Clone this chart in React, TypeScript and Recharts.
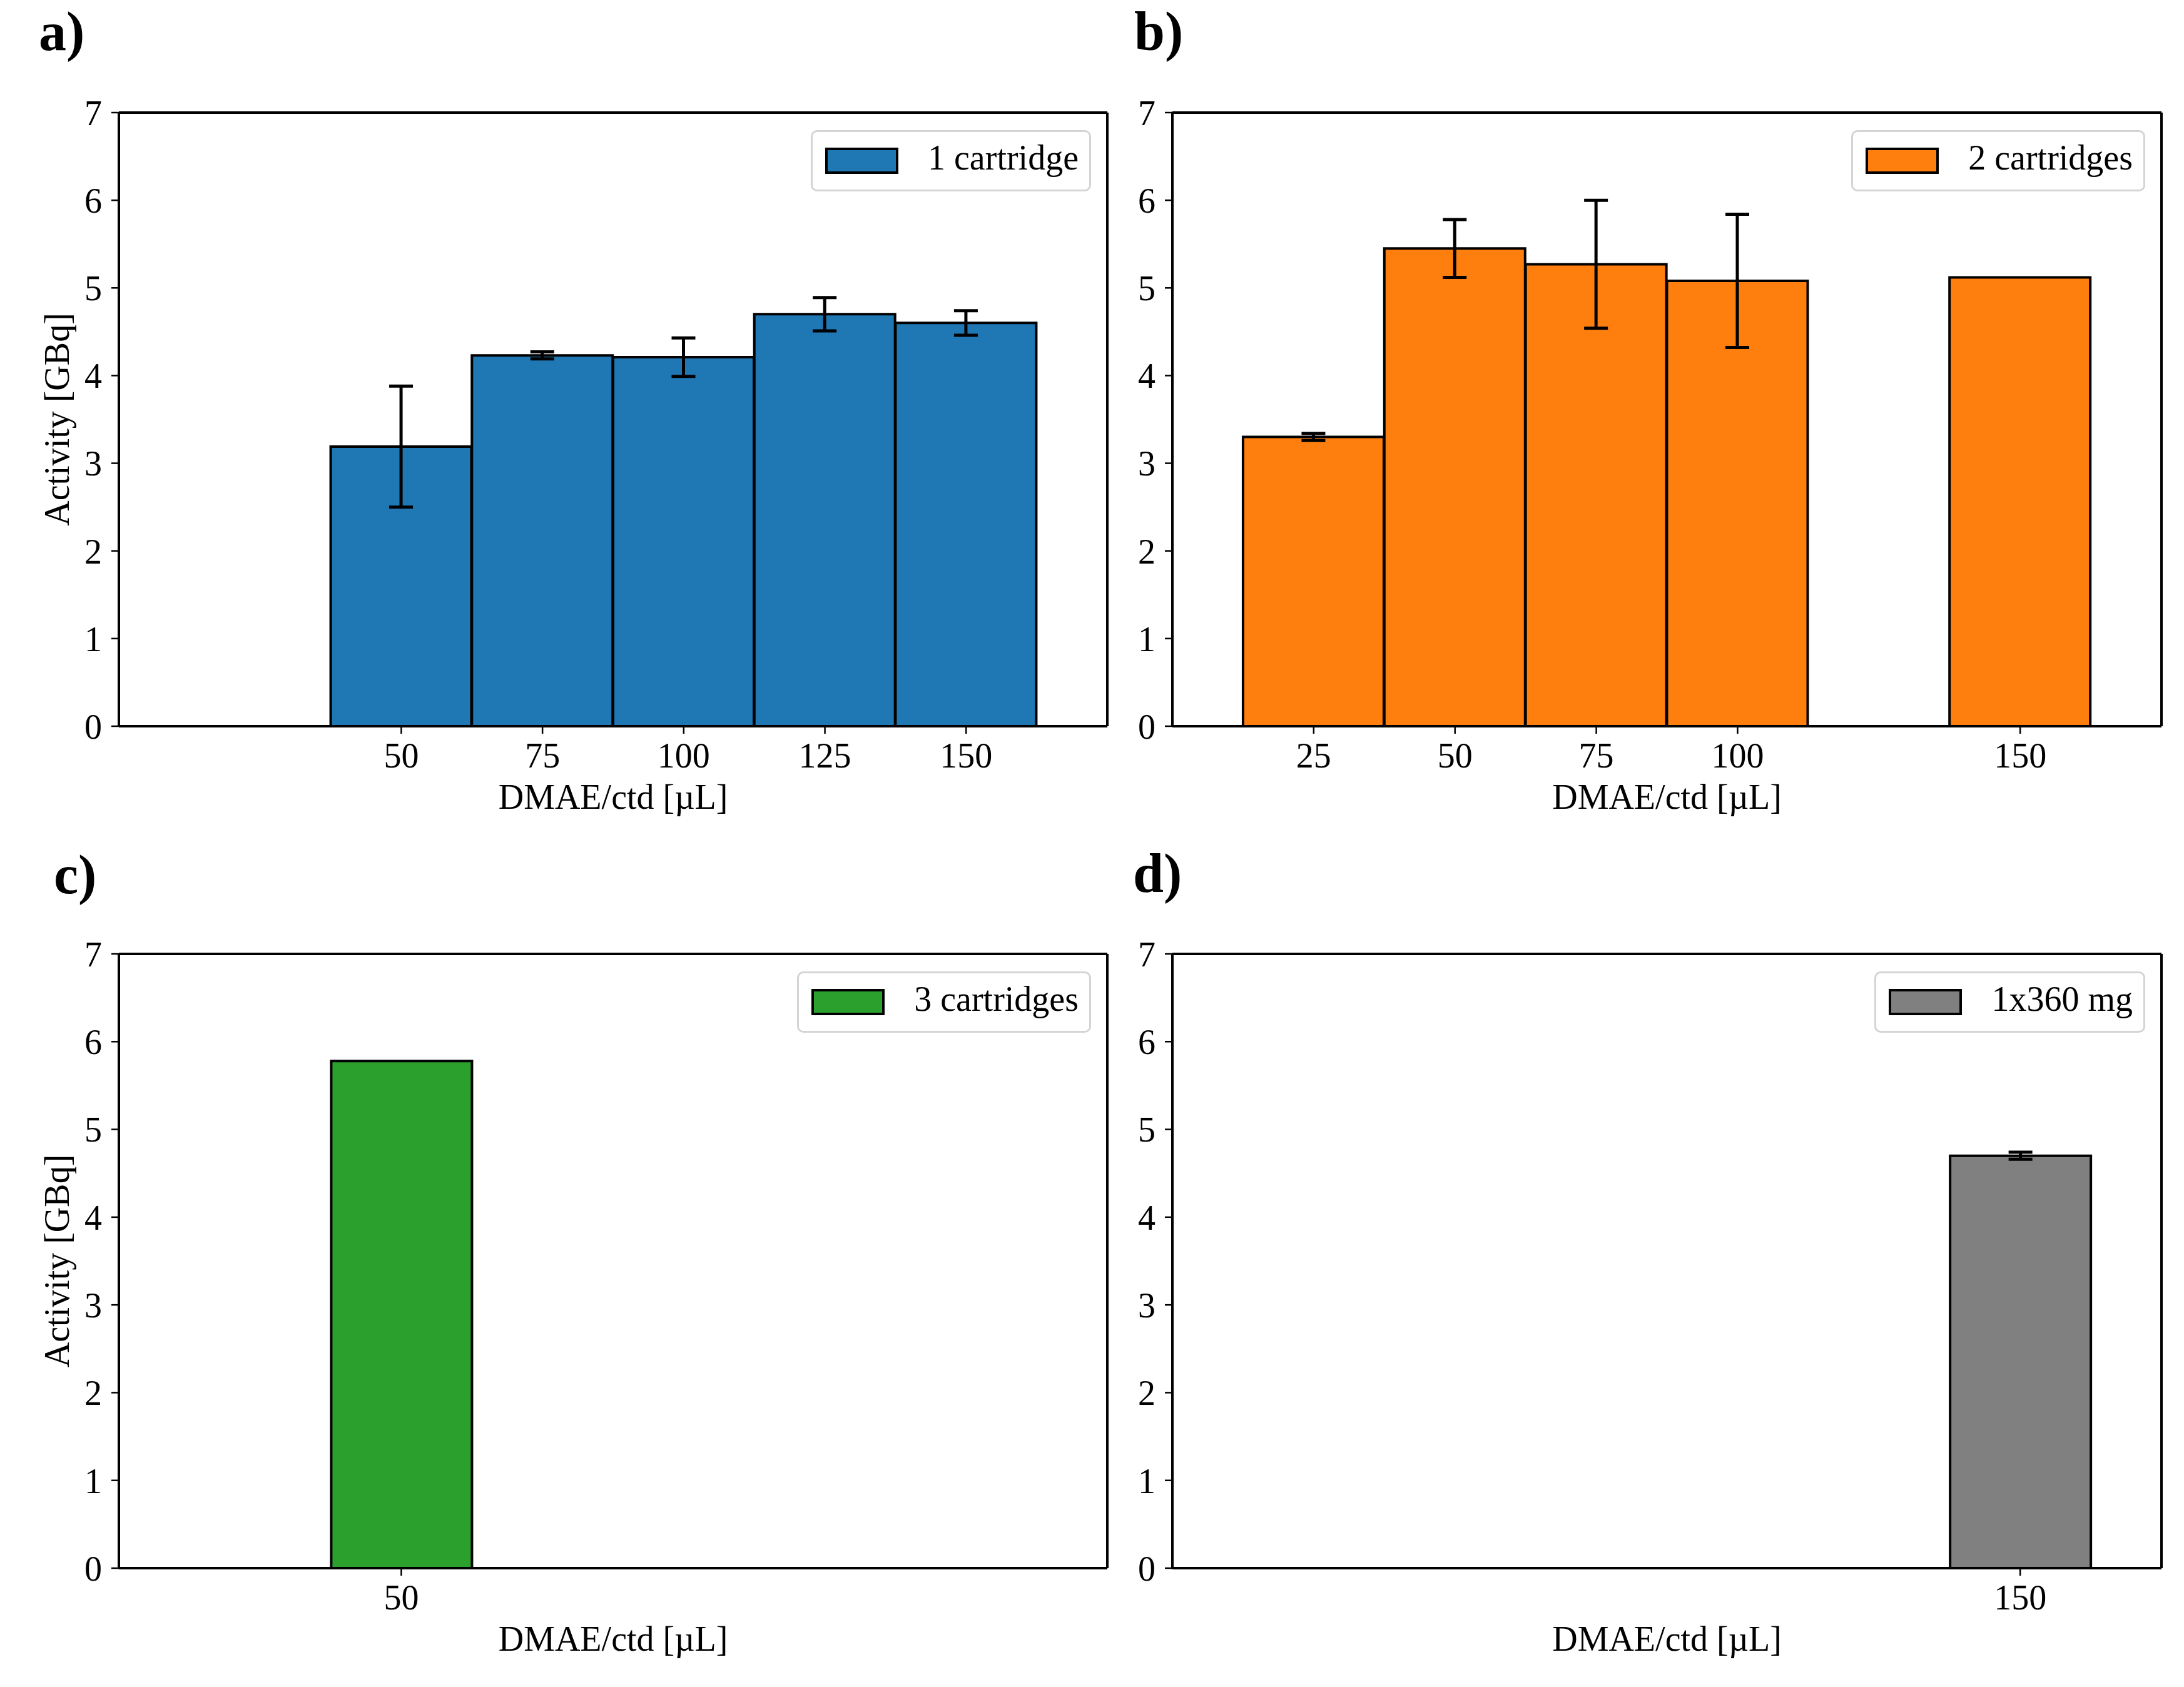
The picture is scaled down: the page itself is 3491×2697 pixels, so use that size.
import React from 'react';
import { BarChart, Bar, XAxis, YAxis, ErrorBar, ReferenceLine, Legend } from 'recharts';

const FONT = '"Liberation Serif", "Times New Roman", Times, serif';

// ---- data ----
const dosesA = [50, 75, 100, 125, 150];
const activityA = [3.19, 4.23, 4.21, 4.7, 4.6];
const errorA = [0.69, 0.04, 0.22, 0.19, 0.14];
const ticksA = [50, 75, 100, 125, 150];

const dosesB = [25, 50, 75, 100, 150];
const activityB = [3.3, 5.45, 5.27, 5.08, 5.12];
const errorB = [0.04, 0.33, 0.73, 0.76, 0];
const ticksB = [25, 50, 75, 100, 150];

const dosesC = [50];
const activityC = [5.78];
const errorC = [0];
const ticksC = [50];

const dosesD = [150];
const activityD = [4.7];
const errorD = [0.04];
const ticksD = [150];

const yTicks = [0, 1, 2, 3, 4, 5, 6, 7];
const xDomain: [number, number] = [0, 175];
const yDomain: [number, number] = [0, 7];
const binWidth = 25;

const xLabel = 'DMAE/ctd [\u00b5L]';
const yLabel = 'Activity [GBq]';

type Row = { dose: number; activity: number; err: number };
const toRows = (d: number[], a: number[], e: number[]): Row[] =>
  d.map((dose, i) => ({ dose, activity: a[i], err: e[i] }));

type Box = { left: number; top: number; width: number; height: number };
type Plot = { x0: number; y0: number; x1: number; y1: number };

const LegendBox = ({ label, color }: { label: string; color: string }) => (
  <div
    style={{
      boxSizing: 'border-box',
      height: 98,
      display: 'flex',
      alignItems: 'center',
      paddingLeft: 20,
      paddingRight: 17,
      border: '3px solid #d4d4d4',
      borderRadius: 10,
      background: 'rgba(255,255,255,0.8)',
      fontFamily: FONT,
      fontSize: 56,
      color: '#000',
      whiteSpace: 'nowrap',
      lineHeight: 1,
    }}
  >
    <span
      style={{
        display: 'inline-block',
        width: 117,
        height: 42,
        boxSizing: 'border-box',
        background: color,
        border: '4px solid #000',
        marginRight: 47,
        flex: 'none',
      }}
    />
    <span style={{ position: 'relative', top: -5 }}>{label}</span>
  </div>
);

type PanelProps = {
  box: Box;
  plot: Plot;
  rows: Row[];
  ticks: number[];
  color: string;
  legend: string;
  showYLabel: boolean;
  hasErr: boolean;
};

const Panel = ({ box, plot, rows, ticks, color, legend, showYLabel, hasErr }: PanelProps) => {
  const W = 60;
  const H = 150;
  const margin = {
    top: plot.y0 - box.top,
    left: plot.x0 - box.left - W,
    right: box.left + box.width - plot.x1,
    bottom: box.top + box.height - plot.y1 - H,
  };
  const plotW = plot.x1 - plot.x0;
  const barSize = Math.floor((plotW * binWidth) / (xDomain[1] - xDomain[0]));
  const tickStyle = { fill: '#000', fontSize: 56, fontFamily: FONT };
  const lineStyle = { stroke: '#000', strokeWidth: 4 };
  const tickLineStyle = { stroke: '#000', strokeWidth: 2.5 };

  return (
    <div style={{ position: 'absolute', left: box.left, top: box.top, width: box.width, height: box.height }}>
      <BarChart width={box.width} height={box.height} data={rows} margin={margin}>
        <Bar
          dataKey="activity"
          fill={color}
          stroke="#000"
          strokeWidth={4}
          barSize={barSize}
          isAnimationActive={false}
        >
          {hasErr && (
            <ErrorBar
              dataKey="err"
              width={19}
              stroke="#000"
              strokeWidth={5}
              direction="y"
              isAnimationActive={false}
            />
          )}
        </Bar>
        <XAxis
          type="number"
          dataKey="dose"
          domain={xDomain}
          ticks={ticks}
          interval={0}
          height={H}
          tick={tickStyle}
          tickSize={12}
          tickMargin={14}
          tickLine={tickLineStyle}
          axisLine={lineStyle}
          allowDataOverflow
          label={(p: any) => {
            const vb = p.viewBox;
            return (
              <text
                x={vb.x + vb.width / 2}
                y={vb.y + 132}
                textAnchor="middle"
                fontFamily={FONT}
                fontSize={56}
                fill="#000"
              >
                {xLabel}
              </text>
            );
          }}
        />
        <YAxis
          type="number"
          domain={yDomain}
          ticks={yTicks}
          interval={0}
          width={W}
          tick={tickStyle}
          tickSize={12}
          tickMargin={15}
          tickLine={tickLineStyle}
          axisLine={lineStyle}
          allowDataOverflow
          label={
            showYLabel
              ? (p: any) => {
                  const vb = p.viewBox;
                  const cx = vb.x + vb.width - 99;
                  const cy = vb.y + vb.height / 2;
                  return (
                    <text
                      x={cx}
                      y={cy}
                      transform={`rotate(-90 ${cx} ${cy})`}
                      textAnchor="middle"
                      dominantBaseline="central"
                      fontFamily={FONT}
                      fontSize={56}
                      fill="#000"
                    >
                      {yLabel}
                    </text>
                  );
                }
              : undefined
          }
        />
        <ReferenceLine y={yDomain[1]} stroke="#000" strokeWidth={4} ifOverflow="visible" />
        <ReferenceLine x={xDomain[1]} stroke="#000" strokeWidth={4} ifOverflow="visible" />
        <Legend
          layout="horizontal"
          verticalAlign="middle"
          align="center"
          wrapperStyle={{
            position: 'absolute',
            top: plot.y0 - box.top + 28,
            right: box.left + box.width - plot.x1 + 26,
            left: 'auto',
            bottom: 'auto',
            width: 'auto',
            height: 'auto',
          }}
          content={() => <LegendBox label={legend} color={color} />}
        />
      </BarChart>
    </div>
  );
};

const titles = [
  { text: 'a)', x: 62, y: 80 },
  { text: 'b)', x: 1813, y: 80 },
  { text: 'c)', x: 86, y: 1428 },
  { text: 'd)', x: 1811, y: 1426 },
];

export default function App() {
  return (
    <div style={{ position: 'absolute', left: 0, top: 0, width: 3491, height: 2697, background: '#fff', overflow: 'hidden' }}>
      <Panel
        box={{ left: 0, top: 0, width: 1785, height: 1345 }}
        plot={{ x0: 190, y0: 180, x1: 1770, y1: 1161 }}
        rows={toRows(dosesA, activityA, errorA)}
        ticks={ticksA}
        color="#1f77b4"
        legend="1 cartridge"
        showYLabel
        hasErr
      />
      <Panel
        box={{ left: 1785, top: 0, width: 1706, height: 1345 }}
        plot={{ x0: 1874, y0: 180, x1: 3455, y1: 1161 }}
        rows={toRows(dosesB, activityB, errorB)}
        ticks={ticksB}
        color="#ff7f0e"
        legend="2 cartridges"
        showYLabel={false}
        hasErr
      />
      <Panel
        box={{ left: 0, top: 1345, width: 1785, height: 1352 }}
        plot={{ x0: 190, y0: 1525, x1: 1770, y1: 2507 }}
        rows={toRows(dosesC, activityC, errorC)}
        ticks={ticksC}
        color="#2ca02c"
        legend="3 cartridges"
        showYLabel
        hasErr={false}
      />
      <Panel
        box={{ left: 1785, top: 1345, width: 1706, height: 1352 }}
        plot={{ x0: 1874, y0: 1525, x1: 3455, y1: 2507 }}
        rows={toRows(dosesD, activityD, errorD)}
        ticks={ticksD}
        color="#808080"
        legend="1x360 mg"
        showYLabel={false}
        hasErr
      />
      <svg
        width={3491}
        height={2697}
        style={{ position: 'absolute', left: 0, top: 0, pointerEvents: 'none' }}
      >
        {titles.map((t) => (
          <text key={t.text} x={t.x} y={t.y} fontFamily={FONT} fontWeight="bold" fontSize={88} fill="#000">
            {t.text}
          </text>
        ))}
      </svg>
    </div>
  );
}
